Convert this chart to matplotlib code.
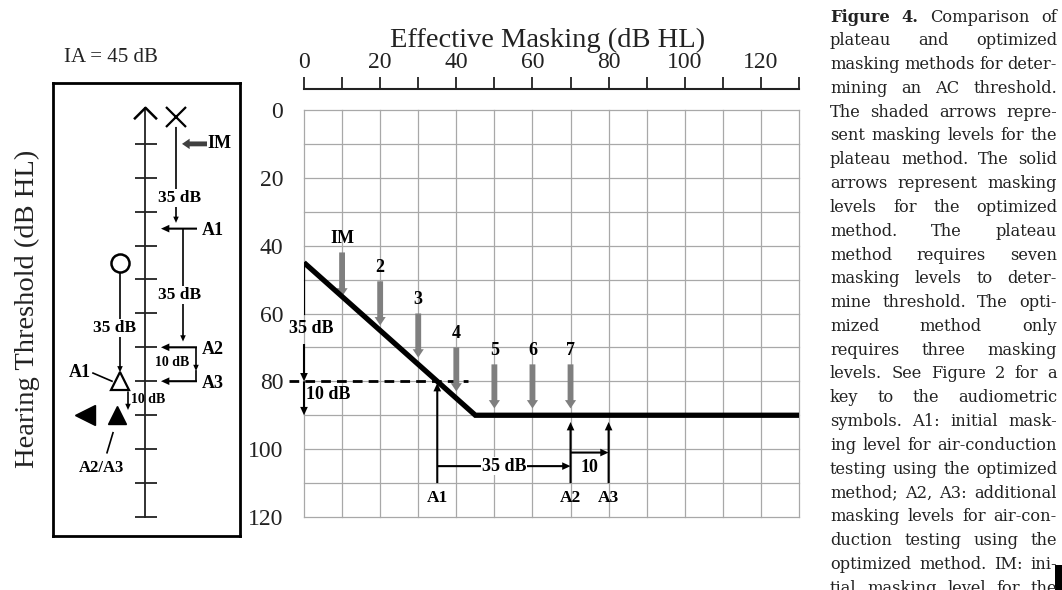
import numpy as np
import matplotlib
matplotlib.use('Agg')
import matplotlib.pyplot as plt
from matplotlib.path import Path
from matplotlib.patches import Rectangle

# ---------------------------
# data (dB HL)
# ---------------------------
# masking function: threshold of the test ear vs effective masking
em_curve = [0, 45, 130]
thr_curve = [45, 90, 90]

# plateau method (shaded arrows)
plateau_em = [10, 20, 30, 40, 50, 60, 70]
plateau_tip = [55, 63.5, 73, 83, 88, 88, 88]
plateau_lbl = ['IM', '2', '3', '4', '5', '6', '7']

# optimized method (solid arrows)
opt_em = [35, 70, 80]
opt_tip = [80.5, 92, 92]
opt_lbl = ['A1', 'A2', 'A3']
opt_base = 110

# thresholds on the left of the grid
unmasked_thr = 45
masked_thr = [80, 90]

# left panel (IA = 45 dB)
bc_unmasked = 1          # caret at the top of the scale
nontest_ac = 2           # X
test_ac = 45             # O
test_masked = [80, 90]   # open triangle (A1), filled triangle (A2/A3)
masked_bc = 90           # filled left triangle
nt_levels = [10, 35, 70, 80]   # IM, A1, A2, A3 in the non-test ear
nt_labels = ['IM', 'A1', 'A2', 'A3']

caption = [
    "Figure 4. Comparison of",
    "plateau and optimized",
    "masking methods for deter-",
    "mining an AC threshold.",
    "The shaded arrows repre-",
    "sent masking levels for the",
    "plateau method. The solid",
    "arrows represent masking",
    "levels for the optimized",
    "method. The plateau",
    "method requires seven",
    "masking levels to deter-",
    "mine threshold. The opti-",
    "mized method only",
    "requires three masking",
    "levels. See Figure 2 for a",
    "key to the audiometric",
    "symbols. A1: initial mask-",
    "ing level for air-conduction",
    "testing using the optimized",
    "method; A2, A3: additional",
    "masking levels for air-con-",
    "duction testing using the",
    "optimized method. IM: ini-",
    "tial masking level for the",
]

# ---------------------------
# figure
# ---------------------------
W, H = 1062, 590
fig = plt.figure(figsize=(W / 100, H / 100), dpi=100)
SERIF = ['Liberation Serif', 'DejaVu Serif']


def fx(x):
    return x / W


def fy(y):
    return 1 - y / H


def arrow(ax, tail, tip, kind='black'):
    if kind == 'black':
        style = 'simple,head_length=0.6,head_width=0.55,tail_width=0.15'
        col = 'black'
    elif kind == 'small':
        style = 'simple,head_length=0.45,head_width=0.4,tail_width=0.12'
        col = 'black'
    elif kind == 'im':
        style = 'simple,head_length=0.55,head_width=0.75,tail_width=0.35'
        col = '#404040'
    else:
        style = 'simple,head_length=0.6,head_width=0.8,tail_width=0.42'
        col = '#7f7f7f'
    ax.annotate('', xy=tip, xytext=tail, annotation_clip=False,
                arrowprops=dict(arrowstyle=style, fc=col, ec='none', lw=0,
                                mutation_scale=10, shrinkA=0, shrinkB=0))


lbl = dict(family=SERIF, weight='bold', fontsize=13, ha='center', va='center')
white = dict(facecolor='white', edgecolor='none', pad=0.5)

# ---------------------------
# main audiogram-style grid
# ---------------------------
ax = fig.add_axes([fx(304), fy(517), (799 - 304) / W, (517 - 110) / H])
ax.set_xlim(0, 130)
ax.set_ylim(120, 0)
for s in ['left', 'right', 'bottom']:
    ax.spines[s].set_visible(False)
ax.spines['top'].set_position(('outward', 15))
ax.spines['top'].set_linewidth(1.5)
ax.spines['top'].set_color('#222222')
ax.xaxis.tick_top()
ax.set_xticks(range(0, 131, 10))
ax.set_xticklabels([str(v) if v % 20 == 0 else '' for v in range(0, 131, 10)])
ax.set_yticks(range(0, 121, 10))
ax.set_yticklabels([str(v) if v % 20 == 0 else '' for v in range(0, 121, 10)])
ax.tick_params(axis='x', length=8.5, width=1.3, color='#222222', pad=3,
               labelsize=17, labelcolor='#222222')
ax.tick_params(axis='y', length=0, pad=15, labelsize=17, labelcolor='#222222')
for t in ax.get_xticklabels() + ax.get_yticklabels():
    t.set_family(SERIF)
ax.grid(True, color='#a8a8a8', lw=0.9)
ax.set_axisbelow(True)
for gl in ax.get_xgridlines() + ax.get_ygridlines():
    gl.set_clip_on(False)

# masking function
ax.plot(em_curve, thr_curve, color='black', lw=3.8, solid_joinstyle='miter',
        solid_capstyle='butt', zorder=4)

# dashed line at masked A1 threshold
ax.plot([-4, opt_em[0] + 8], [masked_thr[0], masked_thr[0]], color='black',
        lw=2, ls=(0, (3.5, 2.2)), clip_on=False, zorder=3)

# plateau (shaded) arrows
for xm, tip, name in zip(plateau_em, plateau_tip, plateau_lbl):
    arrow(ax, (xm, tip - 13), (xm, tip), kind='gray')
    ax.text(xm, tip - 17, name, **lbl)

# threshold shift arrows at the left edge
ax.plot([0, 0], [unmasked_thr, 60], color='black', lw=1.6, zorder=4)
arrow(ax, (0, 69), (0, masked_thr[0]))
arrow(ax, (0, masked_thr[0]), (0, masked_thr[1]))
ax.text(2, 64.5, '35 dB', **lbl)
ax.text(0.6, 84, '10 dB', **{**lbl, 'ha': 'left'})

# optimized (solid) arrows
for xm, tip, name in zip(opt_em, opt_tip, opt_lbl):
    arrow(ax, (xm, opt_base), (xm, tip))
    ax.text(xm, opt_base + 4.5, name, **{**lbl, 'fontsize': 12.5})
arrow(ax, (opt_em[0], 105), (opt_em[1], 105))
ax.text((opt_em[0] + opt_em[1]) / 2, 105, '35 dB', bbox=white, **lbl)
arrow(ax, (opt_em[1], 101), (opt_em[2], 101))
ax.text((opt_em[1] + opt_em[2]) / 2, 105.3, '10', **lbl)

# axis titles
fig.text(fx(548), fy(40), 'Effective Masking (dB HL)', family=SERIF,
         fontsize=20.5, ha='center', va='center', color='#222222')
fig.text(fx(27), fy(309), 'Hearing Threshold (dB HL)', family=SERIF,
         fontsize=20.5, ha='center', va='center', rotation=90, color='#222222')
fig.text(fx(111), fy(57), 'IA = 45 dB', family=SERIF, fontsize=15,
         ha='center', va='center', color='#222222')

# ---------------------------
# left panel
# ---------------------------
axl = fig.add_axes([fx(53), fy(536), (240 - 53) / W, (536 - 83) / H])
axl.set_xlim(0, 187)
axl.set_ylim(125.66, -7.96)
axl.set_xticks([])
axl.set_yticks([])
for s in axl.spines.values():
    s.set_linewidth(2)

col_axis, col_x, col_step, col_o = 92, 123, 130, 67

# scale with ticks every 10 dB
axl.plot([col_axis, col_axis], [bc_unmasked - 1.7, 120], color='#222222', lw=1.3)
axl.hlines(range(10, 121, 10), col_axis - 10, col_axis + 12, color='#222222', lw=1.3)
caret = Path([(-1, -0.5), (0, 0.5), (1, -0.5)],
             [Path.MOVETO, Path.LINETO, Path.LINETO])
axl.plot(col_axis, bc_unmasked, marker=caret, ms=16.5, mfc='none', mec='black',
         mew=1.8)

# non-test ear
axl.plot(col_x, nontest_ac, marker='x', ms=14, mec='black', mew=1.6)
arrow(axl, (col_x, nontest_ac + 3), (col_x, nt_levels[1] - 1.7), kind='small')
axl.text(col_x + 4, 26, '35 dB', bbox=white, **{**lbl, 'fontsize': 12.5})
arrow(axl, (154, nt_levels[0]), (129, nt_levels[0]), kind='im')
axl.text(154, nt_levels[0], nt_labels[0], **{**lbl, 'ha': 'left'})
for lev, name in zip(nt_levels[1:], nt_labels[1:]):
    arrow(axl, (144, lev), (108, lev))
    axl.text(149, lev + 0.6, name, **{**lbl, 'ha': 'left'})
arrow(axl, (col_step, nt_levels[1]), (col_step, nt_levels[2] - 1.7), kind='small')
axl.text(col_step - 3, 54.6, '35 dB', bbox=white, **{**lbl, 'fontsize': 12.5})
arrow(axl, (143, nt_levels[2]), (143, 77), kind='small')
axl.plot([143, 143], [77, nt_levels[3]], color='black', lw=1.2)
axl.text(119, 74.6, '10 dB', **{**lbl, 'fontsize': 10})

# test ear
axl.plot(col_o, test_ac, marker='o', ms=13, mfc='white', mec='black', mew=1.8)
arrow(axl, (col_o, test_ac + 3), (col_o, test_masked[0] - 2.6), kind='small')
axl.text(col_o - 5, 64.3, '35 dB', bbox=white, **{**lbl, 'fontsize': 12.5})
axl.plot(col_o, test_masked[0], marker='^', ms=13, mfc='white', mec='black', mew=1.6)
axl.plot(col_o - 3, test_masked[1], marker='^', ms=13, mfc='black', mec='black')
axl.plot(32, masked_bc, marker='<', ms=15, mfc='black', mec='black')
axl.text(27, 77.3, 'A1', **lbl)
axl.plot([40, 59], [77.6, 80], color='black', lw=1.2)
arrow(axl, (75, test_masked[0] + 3), (75, test_masked[1] - 1.5), kind='small')
axl.text(78, 85.5, '10 dB', **{**lbl, 'fontsize': 10, 'ha': 'left'})
axl.plot([60, 54], [95.2, 101.1], color='black', lw=1.2)
axl.text(49, 105.6, 'A2/A3', **{**lbl, 'fontsize': 12})

# ---------------------------
# caption (justified)
# ---------------------------
renderer = fig.canvas.get_renderer()
cap_x0, cap_x1, cap_top, cap_step = 830, 1057, 17, 23.8
cap_w = cap_x1 - cap_x0
cap_kw = dict(family=['DejaVu Serif'], va='center', ha='left', color='#222222')


def word_widths(i, words, fs):
    arts = [fig.text(0, 0, w, fontsize=fs, weight='bold' if (i == 0 and j < 2) else 'normal',
                     **cap_kw) for j, w in enumerate(words)]
    ws = [a.get_window_extent(renderer).width for a in arts]
    return arts, ws


# pick one font size so the tightest line still has a normal word space
fs_fit = []
for i, line in enumerate(caption):
    words = line.split(' ')
    arts, ws = word_widths(i, words, 10)
    for a in arts:
        a.remove()
    fs_fit.append(cap_w / (sum(ws) / 10 + (len(words) - 1) * 0.26 * 100 / 72))
cap_fs = min(fs_fit)

for i, line in enumerate(caption):
    words = line.split(' ')
    arts, ws = word_widths(i, words, cap_fs)
    gap = (cap_w - sum(ws)) / max(len(words) - 1, 1)
    x = cap_x0
    for a, wd in zip(arts, ws):
        a.set_position((fx(x), fy(cap_top + i * cap_step)))
        x += wd + gap

fig.patches.append(Rectangle((fx(1055), 0), fx(7), 25 / H, transform=fig.transFigure,
                             facecolor='black', edgecolor='none'))

fig.savefig('out.png', dpi=100)
